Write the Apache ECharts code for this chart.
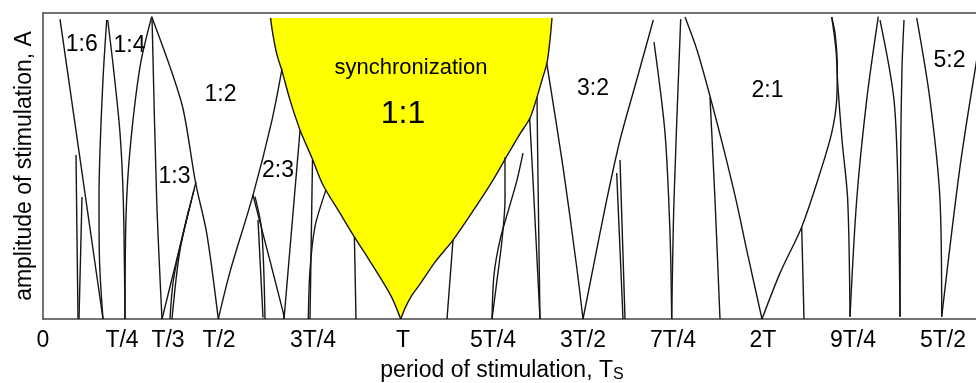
<!DOCTYPE html>
<html><head><meta charset="utf-8">
<script src="https://cdn.jsdelivr.net/npm/echarts@6/dist/echarts.min.js"></script>
<style>html,body{margin:0;padding:0;background:#fff}#c{width:976px;height:383px}</style>
</head><body><div id="c"></div>
<script>
// Period of stimulation in units of T/360 (T = 360), amplitude in arbitrary units (0..100)
const tickValues = [0, 90, 120, 180, 270, 360, 450, 540, 630, 720, 810, 900];
const tickLabels = ['0', 'T/4', 'T/3', 'T/2', '3T/4', 'T', '5T/4', '3T/2', '7T/4', '2T', '9T/4', '5T/2'];

// 1:1 synchronization tongue edges (period, amplitude)
const syncLeftEdge = [[227.5,98.4],[230,92.8],[234,86.3],[238.7,81.4],[247,71.6],[257,61.8],[269,52.6],[280,43.8],[297,34.6],[312,26.5],[325,19.9],[337,13.7],[349,6.9],[357.7,0]];
const syncRightEdge = [[357.7,0],[363,4.2],[369,7.8],[377,11.4],[392,18.6],[410,25.8],[430,35.3],[450,45.4],[464,53.3],[477,60.5],[487,65.7],[494,72.5],[499,78.1],[504,83.7],[507,91.2],[509,98.4]];

// tongue boundaries left of the 1:1 tongue
const leftCurves = [
  [[17,98],[60,0]],
  [[33,53.6],[35,0]],
  [[39,39.9],[36,0]],
  [[63.7,97.7],[60,78.4],[57,55.2],[56,38.9],[56.5,19.3],[60,0]],
  [[64.7,97.7],[70.3,82.4],[77,60.8],[80.3,38.9],[82,0]],
  [[108.7,98.8],[97,82.4],[87,55.2],[83,33.4],[82,0]],
  [[109,98.7],[113.7,38.9],[119,0]],
  [[108.7,98.8],[127,82.4],[140.3,68.3],[152.7,44.3],[163.7,28.1],[175.3,0]],
  [[153,44.8],[119,0]],
  [[151,42.2],[137,22.5],[129,0]],
  [[146,36],[131,14],[127,0]],
  [[175.3,0],[187,15.4],[210,40.5],[229,65],[239,81.7]],
  [[210,40.5],[240.3,2],[241,0]],
  [[212,40],[218.7,29],[222,0]],
  [[215,32.4],[220,0.5]],
  [[241,0],[257,61.5]],
  [[269.5,52],[267,0]],
  [[283,42.2],[272,30.2],[267,16],[265.3,0]],
  [[311.4,26.8],[313,0]]
];

// tongue boundaries between T and 7T/4
const midCurves = [
  [[410,25.8],[404,0]],
  [[462,52.9],[462,38.9],[459,25.8],[454,12.7],[449,0]],
  [[480,54.2],[474,45.4],[467,37.3],[457,25.8],[451,14.4],[449,0]],
  [[486.6,65.7],[490,45.4],[497,0]],
  [[494,72.5],[495,45.4],[497,0]],
  [[503.7,83.7],[520,49.7],[533.7,17],[540,0]],
  [[540,0],[550.3,17],[563.7,38.9],[577,58.5],[593.7,78.1],[610.3,97.7]],
  [[577,52],[582,0]],
  [[573.7,47.7],[580,0]],
  [[611,90.5],[622,60.8],[627,28.1],[628.7,0]],
  [[637.7,98],[631,38.9],[628.7,0]]
];

// tongue boundaries right of 7T/4
const rightCurves = [
  [[642,98.7],[654,87.9],[668,71.6],[681,55.2],[693,38.9],[705,20.6],[719,0]],
  [[667,72.5],[672,38.9],[677,0]],
  [[719,0],[737,15],[758.7,30.1],[777,47.7],[788.7,60.8],[793.7,71.6],[794.3,82.4],[792,93.5],[788.7,98.7]],
  [[758.7,30.1],[761,0]],
  [[788.7,98.7],[793,87.9],[794.7,77.1],[799,58.5],[804.7,38.9],[807,0.7]],
  [[835.3,98.8],[823.7,71.6],[813.7,38.9],[807,0.7]],
  [[837,97.7],[851,71.6],[855.3,38.9],[857,0.7]],
  [[861,97.7],[859,82],[857.7,55],[857,0.7]],
  [[873.7,98.4],[887,71.6],[897,38.9],[898.7,0.7]],
  [[933.7,84.6],[917,49.7],[898.7,0.7]]
];

// region labels: text, period, amplitude
const regionLabels = [
  ['1:6', 38.7, 89.5], ['1:4', 86.5, 89.2], ['1:2', 177.5, 73.2], ['1:3', 131.5, 46.6],
  ['2:3', 235, 48.5], ['synchronization', 368, 82.2], ['1:1', 360, 66.8],
  ['3:2', 550, 75.2], ['2:1', 724.5, 74.5], ['5:2', 906.5, 84.3]
];

const FONT = '"Liberation Sans", Arial, Helvetica, sans-serif';
const labelNudge = {'T/4': 'l11', 'T/3': 'r5', 'T/2': 'l4'};
const tickRich = {
  n: {fontSize: 23, fontFamily: FONT, color: '#000'},
  l11: {fontSize: 23, fontFamily: FONT, color: '#000', padding: [0, 22, 0, 0]},
  r5: {fontSize: 23, fontFamily: FONT, color: '#000', padding: [0, 0, 0, 10]},
  l4: {fontSize: 23, fontFamily: FONT, color: '#000', padding: [0, 8, 0, 0]}
};

const chart = echarts.init(document.getElementById('c'), null, {renderer: 'canvas'});
const lineStyle = {color: '#161616', width: 1.4};
const curveSeries = [...leftCurves, ...midCurves, ...rightCurves, syncLeftEdge, syncRightEdge].map(pts => ({
  type: 'line', data: pts, showSymbol: false, symbol: 'none', smooth: 0.3, silent: true,
  lineStyle: lineStyle, z: 3, animation: false, xAxisIndex: 0, yAxisIndex: 0
}));

const option = {
  animation: false,
  grid: {left: 43, right: 0, top: 13, bottom: 64, containLabel: false, outerBoundsMode: 'none'},
  xAxis: [{
    type: 'value', min: 0, max: 933, position: 'bottom',
    axisLine: {show: true, lineStyle: {color: '#444', width: 1.5}},
    axisTick: {show: false}, splitLine: {show: false},
    axisLabel: {
      customValues: tickValues, margin: 10, fontSize: 23, fontFamily: FONT, color: '#000',
      formatter: v => {
        const i = tickValues.indexOf(v);
        const t = i >= 0 ? tickLabels[i] : '';
        return '{' + (labelNudge[t] || 'n') + '|' + t + '}';
      },
      rich: tickRich
    },
    name: '{a|period of stimulation, T}{s|S}', nameLocation: 'middle', nameGap: 39,
    nameTextStyle: {fontSize: 23, fontFamily: FONT, color: '#000', padding: [0, 15, 0, 0],
      rich: {a: {fontSize: 23, fontFamily: FONT, color: '#000'}, s: {fontSize: 16, fontFamily: FONT, color: '#000', padding: [9, 0, 0, 0]}}}
  }, {
    type: 'value', min: 0, max: 933, position: 'top',
    axisLine: {show: true, lineStyle: {color: '#444', width: 1.5}},
    axisTick: {show: false}, axisLabel: {show: false}, splitLine: {show: false}
  }],
  yAxis: {
    type: 'value', min: 0, max: 100,
    axisLine: {show: true, lineStyle: {color: '#444', width: 1.5}},
    axisTick: {show: false}, axisLabel: {show: false}, splitLine: {show: false},
    name: 'amplitude of stimulation, A', nameLocation: 'middle', nameGap: 7,
    nameTextStyle: {fontSize: 23, fontFamily: FONT, color: '#000'}
  },
  series: [
    {
      type: 'custom', data: [[0, 0]], z: 1, silent: true, animation: false,
      renderItem: (params, api) => {
        const pts = syncLeftEdge.concat(syncRightEdge.slice(1)).map(p => api.coord(p));
        return {type: 'polygon', shape: {points: pts}, style: {fill: '#ffff00', stroke: null}};
      }
    },
    ...curveSeries,
    {
      type: 'scatter', z: 5, silent: true, animation: false, symbolSize: 1,
      itemStyle: {color: 'rgba(0,0,0,0)', opacity: 1},
      data: regionLabels.map(r => ({
        value: [r[1], r[2]], name: r[0],
        label: {fontSize: r[0] === '1:1' ? 32 : (r[0] === 'synchronization' ? 22 : 23), color: '#000'}
      })),
      label: {show: true, position: 'inside', formatter: p => p.name, fontFamily: FONT, color: '#000',
        fontSize: 23, textBorderWidth: 0, textShadowBlur: 0}
    }
  ]
};
chart.setOption(option);
</script>
</body></html>
